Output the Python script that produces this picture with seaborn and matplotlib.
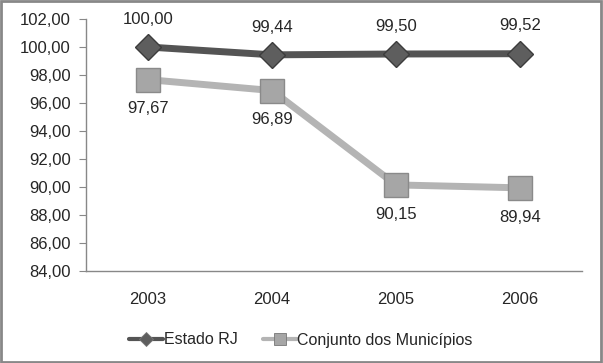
import matplotlib
matplotlib.use("Agg")
import matplotlib.pyplot as plt
import seaborn as sns
import pandas as pd
from matplotlib.patches import Rectangle
from matplotlib.lines import Line2D

years = [2003, 2004, 2005, 2006]
estado_rj = [100.00, 99.44, 99.50, 99.52]
conjunto = [97.67, 96.89, 90.15, 89.94]
series_names = ["Estado RJ", "Conjunto dos Municípios"]
y_ticks = [84, 86, 88, 90, 92, 94, 96, 98, 100, 102]

def fmt(v):
    return f"{v:.2f}".replace(".", ",")

df = pd.DataFrame({
    "Ano": years * 2,
    "Valor": estado_rj + conjunto,
    "Série": [series_names[0]] * 4 + [series_names[1]] * 4,
})

sns.set_style("white")
plt.rcParams["font.family"] = ["Liberation Sans", "DejaVu Sans"]
FS = 12

fig = plt.figure(figsize=(6.03, 3.63), dpi=100)
ax = fig.add_axes([86/603, 1-271/363, (582-86)/603, (271-19)/363])

colors = {series_names[0]: "#545454", series_names[1]: "#b4b4b4"}
markers = {series_names[0]: "D", series_names[1]: "s"}
mfc = {series_names[0]: "#5e5e5e", series_names[1]: "#a6a6a6"}
mec = {series_names[0]: "#3c3c3c", series_names[1]: "#8a8a8a"}
msize = {series_names[0]: 13, series_names[1]: 17}

for name in series_names:
    sub = df[df["Série"] == name]
    sns.lineplot(data=sub, x="Ano", y="Valor", ax=ax, color=colors[name],
                 linewidth=5, marker=markers[name], markersize=msize[name],
                 markerfacecolor=mfc[name], markeredgecolor=mec[name],
                 markeredgewidth=1, label=name, legend=False)

for x, v in zip(years, estado_rj):
    ax.annotate(fmt(v), (x, v), xytext=(0, 20), textcoords="offset points",
                ha="center", va="center", fontsize=FS)
for x, v in zip(years, conjunto):
    ax.annotate(fmt(v), (x, v), xytext=(0, -21), textcoords="offset points",
                ha="center", va="center", fontsize=FS)

ax.set_xlim(2002.5, 2006.5)
ax.set_ylim(84, 102)
ax.set_yticks(y_ticks)
ax.set_yticklabels([fmt(t) for t in y_ticks], fontsize=FS)
ax.set_xticks(years)
ax.set_xticklabels([str(y) for y in years], fontsize=FS)
ax.set_xticks([2003.5, 2004.5, 2005.5, 2006.5], minor=True)
ax.tick_params(axis="x", which="major", length=0, pad=15)
ax.tick_params(axis="x", which="minor", length=5, color="#888888", direction="out")
ax.tick_params(axis="y", length=5, color="#888888", direction="out", pad=6, left=True)
ax.set_xlabel("")
ax.set_ylabel("")
for s in ["top", "right"]:
    ax.spines[s].set_visible(False)
for s in ["left", "bottom"]:
    ax.spines[s].set_color("#888888")
    ax.spines[s].set_linewidth(1)

handles = [Line2D([], [], color=colors[n], linewidth=3, marker=markers[n],
                  markersize=7 if n == series_names[0] else 8,
                  markerfacecolor=mfc[n], markeredgecolor="#777777", markeredgewidth=0.6)
           for n in series_names]
fig.legend(handles, series_names, loc="center", bbox_to_anchor=(301/603, 1-340/363),
           ncol=2, frameon=False, fontsize=11.5, handlelength=2.1, handletextpad=0.05,
           columnspacing=1.6)

fig.patches.append(Rectangle((0.002, 0.003), 0.995, 0.994, transform=fig.transFigure,
                             fill=False, edgecolor="#888888", linewidth=2))

fig.savefig("out.png", dpi=100)
